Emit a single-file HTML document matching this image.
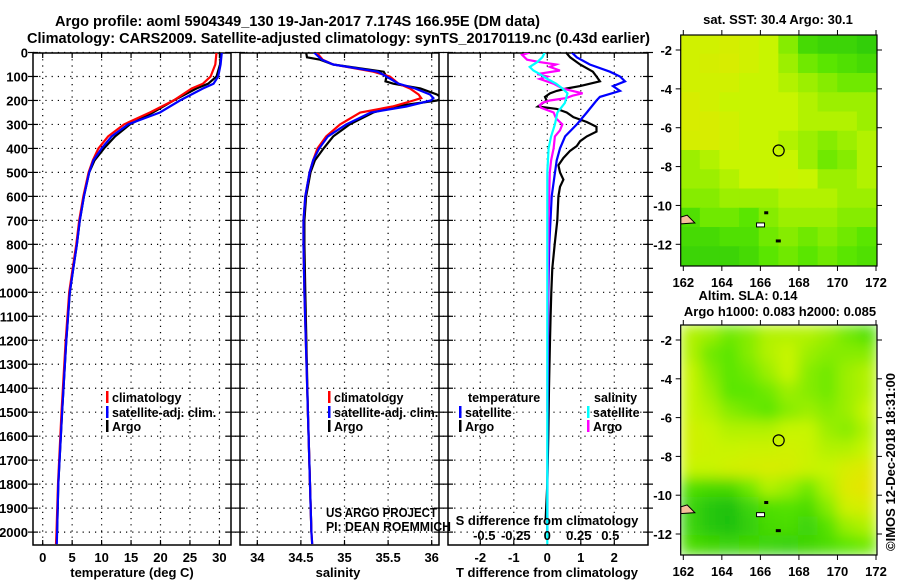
<!DOCTYPE html>
<html><head><meta charset="utf-8"><title>Argo profile</title>
<style>
html,body{margin:0;padding:0;background:#fff;}
svg{display:block;font-family:"Liberation Sans",Arial,sans-serif;}
.b{font-weight:bold;font-size:13px;}
.t{font-weight:bold;font-size:14.5px;}
.l{font-weight:bold;font-size:12.5px;}
</style></head>
<body>
<svg id="chart" width="900" height="580" viewBox="0 0 900 580" xmlns="http://www.w3.org/2000/svg">
<rect width="900" height="580" fill="#fff"/>
<text class="t" x="55" y="26" textLength="485" lengthAdjust="spacingAndGlyphs">Argo profile: aoml 5904349_130 19-Jan-2017 7.174S 166.95E (DM data)</text>
<text class="t" x="27" y="43" textLength="623" lengthAdjust="spacingAndGlyphs">Climatology: CARS2009. Satellite-adjusted climatology: synTS_20170119.nc (0.43d earlier)</text>
<g id="g"></g>
</svg>
<script>
// ---------- data ----------
const depthTicks = [0,100,200,300,400,500,600,700,800,900,1000,1100,1200,1300,1400,1500,1600,1700,1800,1900,2000];
const tTicks = [0,5,10,15,20,25,30];
const sTicks = [34,34.5,35,35.5,36];
const sTickLabels = ["34","34.5","35","35.5","36"];
const dTTicks = [-2,-1,0,1,2];
const dSTicks = [-0.5,-0.25,0,0.25,0.5];
const dSTickLabels = ["-0.5","-0.25","0","0.25","0.5"];

const tDepth = [0,50,100,130,150,200,250,300,350,400,450,500,600,700,800,900,1000,1200,1500,1800,2000,2050];
const tClim  = [29.5,29.3,28.5,27.2,25.3,22.2,18.2,13.8,11.1,9.45,8.5,7.8,6.9,6.2,5.7,5.1,4.5,3.9,3.2,2.6,2.35,2.25];
const tSat   = [30.4,30.2,29.8,29.0,27.2,23.3,19.9,14.5,11.7,10.0,8.6,7.9,7.0,6.3,5.8,5.2,4.6,4.0,3.3,2.65,2.45,2.4];
const tArgoDepth = [0,50,100,130,150,200,250,300,350,400,450,500,600,700,800,900,1000,1200,1500,1800,2000];
const tArgo  = [30.3,30.1,29.5,28.1,26.1,22.2,18.7,14.8,12.3,10.4,8.8,7.9,7.0,6.3,5.8,5.2,4.6,4.0,3.3,2.65,2.45];

const sArgoDepth = [0,20,30,50,80,100,120,130,150,175,190,200,225,250,300,350,400,450,500,600,700,800,1000,1500,2000];
const sArgo = [34.56,34.57,34.72,34.87,35.45,35.48,35.47,35.56,35.87,36.06,36.12,36.06,35.57,35.33,35.06,34.87,34.76,34.66,34.61,34.56,34.54,34.54,34.55,34.58,34.62];
const sClimDepth = [0,30,50,80,100,130,150,175,190,200,225,250,300,350,400,450,500,600,700,800,1000,1500,2000,2050];
const sClim = [34.68,34.75,34.87,35.33,35.52,35.62,35.75,35.85,35.88,35.79,35.55,35.18,34.95,34.79,34.69,34.64,34.6,34.55,34.53,34.53,34.54,34.58,34.62,34.63];
const sSat  = [34.65,34.74,34.87,35.38,35.48,35.62,35.81,35.98,36.02,35.99,35.71,35.3,35.02,34.81,34.71,34.64,34.6,34.55,34.53,34.53,34.54,34.58,34.62,34.63];

const dTSatDepth = [0,20,50,80,100,120,140,160,185,200,250,300,350,400,450,500,600,800,1000,1500,2000];
const dTSat = [0.73,0.88,1.27,1.87,2.17,2.32,1.96,2.17,1.57,1.47,1.18,0.88,0.53,0.38,0.28,0.23,0.13,0.06,0.03,0.01,0];
const dTArgoDepth = [0,20,50,80,100,120,140,150,160,170,185,200,225,235,250,270,290,310,330,350,370,390,410,440,470,500,530,560,600,700,800,900,1000,1100,1200,1400,1600,1800,1950];
const dTArgo = [0.56,0.68,0.98,1.36,1.47,1.57,0.98,0.58,0.28,0.08,-0.07,-0.02,-0.28,0.28,0.58,0.78,1.18,1.47,1.47,1.18,0.98,0.88,0.68,0.48,0.33,0.38,0.48,0.38,0.33,0.3,0.22,0.15,0.12,0.1,0.08,0.05,0.03,0,-0.05];
const dSArgoDepth = [0,10,30,40,50,60,75,90,100,110,130,150,160,170,180,190,200,210,220,230,240,250,275,300,325,350,400,450,500,700,1000,1500];
const dSArgo = [-0.14,-0.2,-0.16,-0.06,0.07,0.02,0.1,-0.08,0,-0.06,0.05,0.12,0.2,0.28,0.2,0.15,0.02,-0.04,-0.06,-0.05,0,0.05,0.07,0.12,0.1,0.06,0.05,0.03,0.02,0.01,0.005,0];
const dSSatDepth = [0,20,40,60,75,90,110,130,150,170,190,210,230,250,300,350,400,500,1000,2050];
const dSSat = [-0.02,-0.04,-0.08,-0.14,-0.11,-0.06,0,0.07,0.12,0.16,0.15,0.14,0.11,0.08,0.06,0.03,0.01,0,0,0];

const lonTicks = [162,164,166,168,170,172];
const latTicks = [-2,-4,-6,-8,-10,-12];
const sstGrid = [
[.75,.75,.78,.75,.7,.55,.35,.3,.3,.25],
[.75,.78,.8,.75,.7,.6,.5,.45,.4,.35],
[.75,.75,.75,.7,.7,.65,.6,.55,.5,.5],
[.8,.75,.7,.7,.7,.7,.65,.6,.6,.6],
[.8,.8,.75,.7,.7,.7,.65,.65,.65,.6],
[.78,.8,.75,.7,.7,.65,.6,.55,.6,.65],
[.6,.65,.7,.7,.7,.7,.6,.5,.55,.65],
[.6,.6,.65,.7,.7,.72,.7,.6,.6,.65],
[.55,.55,.6,.6,.6,.65,.65,.65,.6,.6],
[.4,.5,.5,.45,.55,.6,.6,.6,.55,.55],
[.35,.35,.4,.4,.5,.55,.5,.55,.5,.45],
[.3,.3,.3,.35,.45,.5,.45,.5,.45,.4]];
const slaGrid = [
[.65,.6,.5,.55,.65,.65,.65,.6,.5,.4],
[.65,.5,.45,.55,.65,.7,.6,.55,.55,.55],
[.7,.55,.45,.5,.6,.7,.55,.5,.6,.65],
[.7,.6,.45,.45,.5,.6,.55,.5,.6,.65],
[.7,.65,.55,.5,.45,.55,.6,.55,.6,.7],
[.75,.7,.65,.65,.65,.7,.7,.6,.55,.65],
[.75,.72,.7,.72,.72,.75,.72,.65,.65,.7],
[.7,.7,.75,.78,.8,.78,.72,.7,.8,.85],
[.4,.35,.35,.5,.65,.6,.5,.65,.85,.9],
[.3,.2,.15,.3,.4,.42,.38,.55,.75,.8],
[.3,.2,.15,.25,.35,.38,.3,.42,.6,.65],
[.38,.32,.3,.32,.3,.28,.32,.38,.45,.5]];
const argoLon = 166.95, argoLat = -7.174;

// ---------- helpers ----------
const NS="http://www.w3.org/2000/svg";
const G=document.getElementById('g');
function mk(tag,attrs,parent){const e=document.createElementNS(NS,tag);for(const k in attrs)e.setAttribute(k,attrs[k]);(parent||G).appendChild(e);return e;}
function txt(x,y,s,cls,anchor,parent){const e=mk('text',{x:x,y:y,class:cls||'b','text-anchor':anchor||'start'},parent);e.textContent=s;return e;}

const TOP=53, BOT=545;
const yD=d=>52.5+d*0.2398;
const panels=[
 {name:'temperature',x0:33,x1:231},
 {name:'salinity',x0:240,x1:439},
 {name:'difference',x0:448,x1:648}];
const xT=t=>42.7+t*5.89;
const xS=s=>257.3+(s-34)*87.2;
const xdT=v=>547.3+v*33.5;
const xdS=v=>547.3+v*126;

const defs=mk('defs',{});
panels.forEach((p,i)=>{const c=mk('clipPath',{id:'cp'+i},defs);mk('rect',{x:p.x0,y:TOP,width:p.x1-p.x0,height:BOT-TOP},c);});

function grid(p,xs,xf){
  const g=mk('g',{});
  
  
  xs.forEach(v=>{const x=xf(v);mk('line',{x1:x,x2:x,y1:TOP,y2:BOT,stroke:'#000','stroke-width':1.2,'stroke-dasharray':'1.2 5'},g);
    mk('line',{x1:x,x2:x,y1:BOT,y2:BOT-5,stroke:'#000','stroke-width':1.2},g);
    mk('line',{x1:x,x2:x,y1:TOP,y2:TOP+5,stroke:'#000','stroke-width':1.2},g);});
  depthTicks.forEach(d=>{const y=yD(d);mk('line',{x1:p.x0,x2:p.x1,y1:y,y2:y,stroke:'#000','stroke-width':1.2,'stroke-dasharray':'1.2 5'},g);
    mk('line',{x1:p.x0-5,x2:p.x0+5,y1:y,y2:y,stroke:'#000','stroke-width':1.2},g);
    mk('line',{x1:p.x1-5,x2:p.x1+5,y1:y,y2:y,stroke:'#000','stroke-width':1.2},g);});
  const f=mk('rect',{x:p.x0,y:TOP,width:p.x1-p.x0,height:BOT-TOP,fill:'none',stroke:'#000','stroke-width':1.5},g);
  
  
}
grid(panels[0],tTicks,xT);
grid(panels[1],sTicks,xS);
grid(panels[2],dTTicks,xdT);

depthTicks.forEach(d=>{const e=txt(28,yD(d)+5,String(d),'b','end');
  
  });

function line(depths,vals,xf,color,clip,name){
  const pts=depths.map((d,i)=>xf(vals[i]).toFixed(1)+','+yD(d).toFixed(1)).join(' ');
  const e=mk('polyline',{points:pts,fill:'none',stroke:color,'stroke-width':2.2,'stroke-linejoin':'miter','clip-path':'url(#'+clip+')'});
  
  
}
line(tArgoDepth,tArgo,xT,'#000','cp0','temperature-argo-line');
line(tDepth,tClim,xT,'#f00','cp0','temperature-climatology-line');
line(tDepth,tSat,xT,'#00f','cp0','temperature-satellite-line');
line(sArgoDepth,sArgo,xS,'#000','cp1','salinity-argo-line');
line(sClimDepth,sClim,xS,'#f00','cp1','salinity-climatology-line');
line(sClimDepth,sSat,xS,'#00f','cp1','salinity-satellite-line');
line(dTArgoDepth,dTArgo,xdT,'#000','cp2','tdiff-argo-line');
line(dTSatDepth,dTSat,xdT,'#00f','cp2','tdiff-satellite-line');
line(dSArgoDepth,dSArgo,xdS,'#f0f','cp2','sdiff-argo-line');
line(dSSatDepth,dSSat,xdS,'#0ff','cp2','sdiff-satellite-line');

tTicks.forEach(v=>{const e=txt(xT(v),562,String(v),'b','middle');});
sTicks.forEach((v,i)=>{const e=txt(xS(v),562,sTickLabels[i],'b','middle');});
dTTicks.forEach(v=>{const e=txt(xdT(v),562,String(v),'b','middle');});
dSTicks.forEach((v,i)=>{const e=txt(xdS(v),540,dSTickLabels[i],'b','middle');});
let e;
e=txt(132,577,'temperature (deg C)','b','middle');
e=txt(338,577,'salinity','b','middle');
e=txt(547,577,'T difference from climatology','b','middle');
e=txt(547,525,'S difference from climatology','b','middle');
e=txt(326,517,'US ARGO PROJECT','','start');e.setAttribute('font-size','12');e.setAttribute('textLength','111');e.setAttribute('lengthAdjust','spacingAndGlyphs');
e=txt(326,531,'PI: DEAN ROEMMICH','','start');e.setAttribute('font-size','12');e.setAttribute('textLength','125');e.setAttribute('lengthAdjust','spacingAndGlyphs');

function legend(x,y,color,label,name){
  const g=mk('g',{});
  
  
  mk('rect',{x:x,y:y-6,width:2.5,height:12,fill:color},g);
  txt(x+6,y+5,label,'l','start',g);
}
legend(106,397,'#f00','climatology','legend-temp-climatology');
legend(106,412,'#00f','satellite-adj. clim.','legend-temp-satellite');
legend(106,426,'#000','Argo','legend-temp-argo');
legend(328,397,'#f00','climatology','legend-sal-climatology');
legend(328,412,'#00f','satellite-adj. clim.','legend-sal-satellite');
legend(328,426,'#000','Argo','legend-sal-argo');
e=txt(468,402,'temperature','l','start');
legend(459,412,'#00f','satellite','legend-tdiff-satellite');
legend(459,426,'#000','Argo','legend-tdiff-argo');
e=txt(594,402,'salinity','l','start');
legend(587,412,'#0ff','satellite','legend-sdiff-satellite');
legend(587,426,'#f0f','Argo','legend-sdiff-argo');

// ---------- maps ----------
function cmap(v){
  const stops=[[0,[0,175,20]],[0.45,[90,230,0]],[0.7,[200,245,0]],[1,[245,220,0]]];
  for(let i=1;i<stops.length;i++){if(v<=stops[i][0]){const a=stops[i-1],b=stops[i],t=(v-a[0])/(b[0]-a[0]);
    return 'rgb('+a[1].map((c,k)=>Math.round(c+(b[1][k]-c)*t)).join(',')+')';}}
  return 'rgb(245,220,0)';
}
const lonX=l=>683.3+(l-162)*19.27;
function drawMap(id,grid,top,bot,latY,blur,name){
  const g=mk('g',{});
  
  
  const x0=680.7,x1=877;
  const c=mk('clipPath',{id:'mc'+id},defs);mk('rect',{x:x0,y:top,width:x1-x0,height:bot-top},c);
  if(blur){const f=mk('filter',{id:'bl'+id,x:'-5%',y:'-5%',width:'110%',height:'110%'},defs);mk('feGaussianBlur',{stdDeviation:7,edgeMode:'duplicate'},f);}
  const inner=mk('g',{'clip-path':'url(#mc'+id+')'},g);
  const cells=mk('g',blur?{filter:'url(#bl'+id+')'}:{},inner);
  const rows=grid.length,cols=grid[0].length,cw=(x1-x0)/cols,ch=(bot-top)/rows;
  grid.forEach((r,ri)=>r.forEach((v,ci)=>{
    const cell=mk('rect',{x:x0+ci*cw-0.5,y:top+ri*ch-0.5,width:cw+1,height:ch+1,fill:cmap(v)},cells);
    
    
  }));
  const isl=mk('path',{d:'M'+x0+','+latY(-10.6)+' L'+lonX(162.2)+','+latY(-10.5)+' L'+lonX(162.6)+','+latY(-10.9)+' L'+x0+','+latY(-10.95)+'Z',fill:'#f5c09a',stroke:'#000','stroke-width':1},inner);
  
  
  mk('rect',{x:lonX(165.8),y:latY(-10.9),width:8,height:4,fill:'#fff',stroke:'#000','stroke-width':1},inner);
  mk('rect',{x:lonX(166.8),y:latY(-11.75),width:5,height:3,fill:'#000'},inner);
  mk('rect',{x:lonX(166.2),y:latY(-10.3),width:4,height:3,fill:'#000'},inner);
  const ci=mk('circle',{cx:lonX(argoLon),cy:latY(argoLat),r:5.5,fill:'none',stroke:'#000','stroke-width':1.2},g);
  
  
  mk('rect',{x:x0,y:top,width:x1-x0,height:bot-top,fill:'none',stroke:'#000','stroke-width':1.2},g);
  lonTicks.forEach(l=>{mk('line',{x1:lonX(l),x2:lonX(l),y1:top,y2:top-5,stroke:'#000'},g);mk('line',{x1:lonX(l),x2:lonX(l),y1:bot,y2:bot+5,stroke:'#000'},g);
    const t=txt(lonX(l),bot+21,String(l),'b','middle',g);t.setAttribute('font-size','14');});
  latTicks.forEach(l=>{mk('line',{x1:x0-5,x2:x0,y1:latY(l),y2:latY(l),stroke:'#000'},g);mk('line',{x1:x1,x2:x1+5,y1:latY(l),y2:latY(l),stroke:'#000'},g);
    const t=txt(672,latY(l)+5,String(l),'b','end',g);t.setAttribute('font-size','14');});
}
drawMap(1,sstGrid,35,266,l=>50+(-2-l)*19.43,false,'sst-map');
drawMap(2,slaGrid,325,555,l=>340+(-2-l)*19.4,true,'sla-map');
e=txt(778,24,'sat. SST: 30.4 Argo: 30.1','b','middle');
e=txt(748,300,'Altim. SLA: 0.14','b','middle');
e=txt(780,316,'Argo h1000: 0.083 h2000: 0.085','b','middle');
e=txt(0,0,'©IMOS 12-Dec-2018 18:31:00','','middle');e.setAttribute('font-size','13');e.setAttribute('transform','translate(895,462) rotate(-90)');

</script>
</body></html>
